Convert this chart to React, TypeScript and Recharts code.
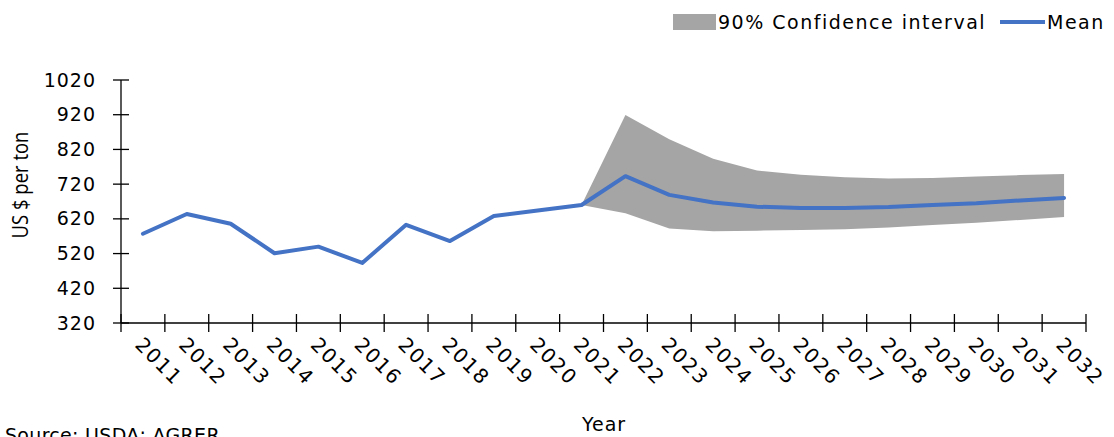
import React from 'react';
import { ComposedChart, Line, Area, XAxis, YAxis } from 'recharts';

const years = ['2011', '2012', '2013', '2014', '2015', '2016', '2017', '2018', '2019', '2020', '2021', '2022', '2023', '2024', '2025', '2026', '2027', '2028', '2029', '2030', '2031', '2032'];
const meanValues = [577, 634, 606, 521, 540, 493, 603, 556, 628, 644, 660, 743, 689, 667, 655, 651, 651, 654, 660, 665, 673, 680];
const lowerValues: (number | null)[] = [null, null, null, null, null, null, null, null, null, null, 660, 636, 592, 584, 586, 588, 590, 595, 602, 609, 617, 625];
const upperValues: (number | null)[] = [null, null, null, null, null, null, null, null, null, null, 660, 919, 849, 793, 759, 747, 740, 736, 738, 742, 746, 749];
const yTicks = [320, 420, 520, 620, 720, 820, 920, 1020];

const data = years.map((year, i) => ({
  i,
  year,
  mean: meanValues[i],
  band: lowerValues[i] == null ? null : [lowerValues[i], upperValues[i]],
}));

const labelTicks = years.map((_, i) => i);
const boundaryTicks = [...years.map((_, i) => i - 0.5), years.length - 0.5];

const FONT = '"DejaVu Sans", sans-serif';
const BAND = '#A5A5A5';
const MEAN = '#4472C4';

const YTick = (props: any) => {
  const { x, y, payload } = props;
  return (
    <g>
      <line x1={x - 8} x2={x + 8} y1={y} y2={y} stroke="#000" strokeWidth={1.3} />
      <text x={x - 25} y={y + 6.5} textAnchor="end" fontFamily={FONT} fontSize={19} letterSpacing={1} fill="#000">
        {payload.value}
      </text>
    </g>
  );
};

const XLabelTick = (props: any) => {
  const { x, y, payload } = props;
  const sx = x - 9;
  const sy = y + 22;
  return (
    <text x={sx} y={sy} transform={`rotate(45, ${sx}, ${sy})`} textAnchor="start" fontFamily={FONT} fontSize={20} letterSpacing={1.5} fill="#000">
      {years[payload.value]}
    </text>
  );
};

const XFrameTick = (props: any) => {
  const { x, y } = props;
  return <line x1={x} x2={x} y1={y - 9} y2={y + 9} stroke="#000" strokeWidth={1.3} />;
};

export default function App() {
  return (
    <div style={{ position: 'absolute', left: 0, top: 0, width: 1114, height: 437, background: '#fff', overflow: 'hidden' }}>
      <ComposedChart width={1114} height={437} data={data} margin={{ top: 80, right: 28, bottom: 112, left: 0 }}>
        <XAxis
          xAxisId="frame"
          type="number"
          dataKey="i"
          domain={[-0.5, years.length - 0.5]}
          ticks={boundaryTicks}
          interval={0}
          tick={<XFrameTick />}
          tickLine={false}
          axisLine={{ stroke: '#000', strokeWidth: 1.3 }}
          tickSize={0}
          tickMargin={0}
          height={1}
          allowDecimals
        />
        <XAxis
          xAxisId="lab"
          type="number"
          dataKey="i"
          domain={[-0.5, years.length - 0.5]}
          ticks={labelTicks}
          interval={0}
          tick={<XLabelTick />}
          tickLine={false}
          axisLine={false}
          tickSize={0}
          tickMargin={0}
          height={1}
        />
        <YAxis
          type="number"
          domain={[320, 1020]}
          ticks={yTicks}
          interval={0}
          width={121}
          tick={<YTick />}
          tickLine={false}
          axisLine={{ stroke: '#000', strokeWidth: 1.3 }}
          tickSize={0}
          tickMargin={0}
        />
        <Area
          xAxisId="lab"
          dataKey="band"
          type="linear"
          fill={BAND}
          fillOpacity={1}
          stroke="none"
          isAnimationActive={false}
          dot={false}
          activeDot={false}
        />
        <Line
          xAxisId="lab"
          dataKey="mean"
          type="linear"
          stroke={MEAN}
          strokeWidth={4}
          strokeLinecap="round"
          strokeLinejoin="round"
          dot={false}
          activeDot={false}
          isAnimationActive={false}
        />
        <Line
          xAxisId="frame"
          dataKey="mean"
          type="linear"
          stroke="none"
          strokeWidth={0}
          dot={false}
          activeDot={false}
          legendType="none"
          isAnimationActive={false}
        />
      </ComposedChart>
      <svg width={1114} height={437} style={{ position: 'absolute', left: 0, top: 0, pointerEvents: 'none' }}>
        <rect x={673} y={14} width={43} height={16} fill={BAND} />
        <text x={718} y={29} fontFamily={FONT} fontSize={19} letterSpacing={1.5} fill="#000">90% Confidence interval</text>
        <line x1={1000} x2={1045} y1={22} y2={22} stroke={MEAN} strokeWidth={4} />
        <text x={1047} y={29} fontFamily={FONT} fontSize={19} letterSpacing={1.5} fill="#000">Mean</text>
        <text x={0} y={0} transform="translate(28, 185) rotate(-90) scale(1, 1.15)" textAnchor="middle" fontFamily='"Open Sans", sans-serif' fontSize={18.5} fill="#000">US $ per ton</text>
        <text x={604} y={431} textAnchor="middle" fontFamily={FONT} fontSize={19} letterSpacing={1} fill="#000">Year</text>
        <text x={5} y={442} fontFamily={FONT} fontSize={19} letterSpacing={0.3} fill="#000">Source: USDA; AGRER</text>
      </svg>
    </div>
  );
}
